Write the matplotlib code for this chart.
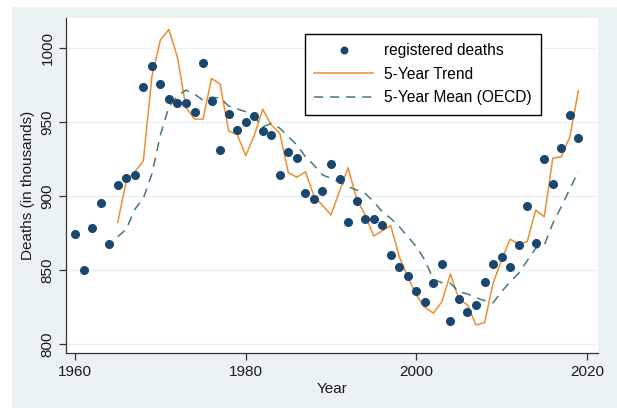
import matplotlib
matplotlib.use("Agg")
import matplotlib.pyplot as plt
from matplotlib.patches import Rectangle

plt.rcParams["font.family"] = ["Liberation Sans", "DejaVu Sans"]

years = list(range(1960, 2020))
deaths = [874.3, 850.2, 878.6, 895.3, 867.8, 907.8, 912.2, 914.3, 974.1, 988.2,
          975.9, 965.7, 963.3, 963.3, 957.0, 989.9, 964.4, 931.3, 955.6, 944.6,
          950.0, 954.5, 943.9, 941.2, 914.6, 929.7, 925.7, 902.0, 898.2, 903.8,
          921.8, 911.5, 882.6, 897.0, 884.9, 884.9, 880.3, 860.3, 852.4, 846.4,
          836.2, 828.6, 841.6, 854.0, 816.0, 830.4, 821.6, 826.8, 841.9, 854.3,
          858.8, 852.4, 866.9, 893.6, 868.2, 925.2, 908.3, 932.4, 954.7, 939.4]

trend_years = list(range(1965, 2020))
trend = [882.4, 910.3, 916.5, 923.9, 980.8, 1005.6, 1012.8, 993.9, 960.1, 952.2,
         952.2, 979.7, 975.7, 944.1, 941.9, 927.4, 941.0, 958.8, 948.2, 942.6,
         916.0, 912.8, 916.6, 900.2, 893.9, 887.4, 903.6, 919.3, 898.6, 887.4,
         873.2, 876.6, 880.2, 859.2, 845.7, 833.3, 825.0, 821.0, 828.8, 847.5,
         830.4, 826.6, 813.0, 814.6, 841.2, 857.0, 871.0, 867.8, 869.3, 890.7,
         886.2, 925.7, 926.8, 940.3, 971.4]

oecd_mean = [872.7, 877.7, 891.2, 898.6, 915.0, 941.4, 960.5, 967.8, 971.8, 969.0,
             965.0, 967.0, 966.4, 961.0, 959.0, 957.2, 953.8, 947.0, 949.3, 946.0,
             940.3, 934.7, 926.8, 921.1, 914.4, 912.2, 909.9, 906.5, 904.3, 902.0,
             896.4, 889.6, 885.1, 879.5, 872.7, 866.0, 857.0, 843.9, 841.6, 841.2,
             835.5, 834.0, 831.5, 829.5, 828.1, 835.5, 842.3, 848.0, 856.5, 864.9,
             867.0, 881.7, 893.0, 905.0, 917.0]

x_ticks = [1960, 1980, 2000, 2020]
y_ticks = [800, 850, 900, 950, 1000]

NAVY = "#1A476F"
ORANGE = "#EE8E2E"
TEAL = "#457B6E"
REGION = "#EAF2F3"

fig = plt.figure(figsize=(6.17, 4.08), dpi=100)
fig.patch.set_facecolor("white")
fig.patches.append(Rectangle((12 / 617, 0), 1 - 12 / 617, 1 - 7 / 408,
                             transform=fig.transFigure, facecolor=REGION,
                             edgecolor="none", zorder=-10))

ax = fig.add_axes([65.7 / 617, 1 - 353 / 408, (598 - 65.7) / 617, (353 - 18.3) / 408])
ax.set_facecolor("white")

ax.plot(years, deaths, linestyle="none", marker="o", markersize=5.5,
        color=NAVY, label="registered deaths", zorder=3)
ax.plot(trend_years, trend, color=ORANGE, lw=1.1, label="5-Year Trend", zorder=2)
ax.plot(trend_years, oecd_mean, color=TEAL, lw=1.1, linestyle=(0, (6, 4.5)),
        label="5-Year Mean (OECD)", zorder=2)

ax.set_xlim(1958.9, 2021.3)
ax.set_ylim(794.1, 1020.3)
ax.set_xticks(x_ticks)
ax.set_yticks(y_ticks)
ax.set_yticklabels([str(v) for v in y_ticks], rotation=90, va="center")
ax.tick_params(axis="both", labelsize=11, length=5, width=0.9, color="#333333",
               labelcolor="#1a1a1a", direction="out")
ax.tick_params(axis="y", pad=3)
ax.grid(axis="y", color=REGION, lw=1.0)
ax.set_axisbelow(True)

for side in ("top", "right"):
    ax.spines[side].set_visible(False)
for side in ("left", "bottom"):
    ax.spines[side].set_color("#333333")
    ax.spines[side].set_linewidth(0.9)

ax.set_xlabel("Year", fontsize=11, color="#1a1a1a", labelpad=2)
ax.set_ylabel("Deaths (in thousands)", fontsize=11, color="#1a1a1a", labelpad=4)

leg = ax.legend(loc="upper left", bbox_to_anchor=(0.4496, 0.953), fontsize=11.2,
                frameon=True, fancybox=False, framealpha=1, edgecolor="black",
                handlelength=3.8, handletextpad=0.65, labelspacing=0.55,
                borderpad=0.6, borderaxespad=0, markerscale=0.85)
leg.get_frame().set_linewidth(1.0)

fig.savefig("out.png", dpi=100)
